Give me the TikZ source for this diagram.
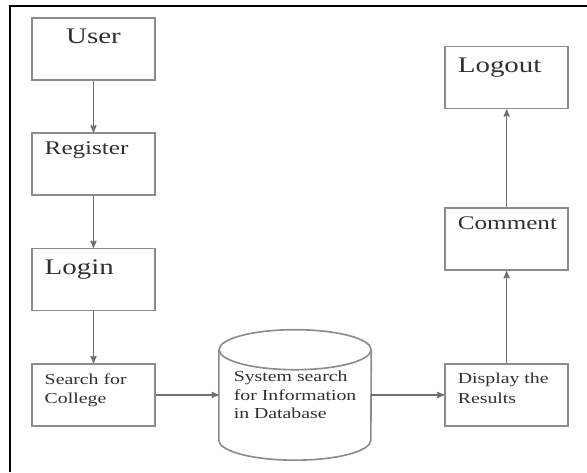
\documentclass[tikz,border=0pt]{standalone}
\usepackage{fontspec}
\setmainfont[FakeStretch=1.3]{Liberation Serif}
\usetikzlibrary{arrows,positioning}
\definecolor{linegray}{HTML}{8C8C8C}
\definecolor{textgray}{HTML}{303030}
\tikzset{
    %Define standard arrow tip
    >=stealth',
    %Define style for boxes
    stepbox/.style={
           rectangle,
           draw=linegray, line width=1.4pt,
           minimum width=3.69cm,
           minimum height=1.86cm,
           inner sep=0pt},
    %Define style for the texts in the boxes
    plaintext/.style={
           inner sep=0pt,
           text=textgray,
           align=left},
    boxtext/.style={
           plaintext,
           anchor=north west,
           xshift=0.4cm},
    bigtext/.style={font=\fontsize{19}{22}\selectfont, yshift=-0.36cm},
    midtext/.style={font=\fontsize{16.5}{20}\selectfont, yshift=-0.28cm},
    smalltext/.style={font=\fontsize{13}{17}\selectfont, yshift=-0.3cm},
    % Define arrow style
    pil/.style={
           ->,
           draw=linegray!80!black,
           line width=1.2pt}
}
\begin{document}
\begin{tikzpicture}[x=0.03cm,y=-0.03cm,node distance=1.55cm]
\useasboundingbox (0,0) rectangle (587,472);
 %frame
\coordinate (framebl) at (10,472);
\coordinate (frametr) at (587,6);
\draw[line width=1.6pt] (framebl) |- (frametr);
 %nodes
\node[stepbox, label={[plaintext,bigtext,anchor=north]north:User}] (user) at (93.5,49) {};
\node[stepbox, below=of user, label={[boxtext,midtext]north west:Register}] (register) {};
\node[stepbox, below=of register, label={[boxtext,bigtext]north west:Login}] (login) {};
\node[stepbox, below=of login, label={[boxtext,smalltext]north west:{Search for\\College}}] (search) {};
\node[right=1.89cm of search, minimum width=4.56cm, minimum height=2.7cm, inner sep=0pt,
      align=left, text=textgray, font=\fontsize{13}{16}\selectfont] (db) {System search\\for Information\\in Database};
\node[stepbox, right=2.19cm of db, label={[boxtext,smalltext]north west:{Display the\\Results}}] (display) {};
\node[stepbox, above=2.76cm of display, label={[boxtext,midtext]north west:Comment}] (comment) {};
\node[stepbox, above=2.94cm of comment, label={[boxtext,bigtext]north west:Logout}] (logout) {};
 %database outline
\draw[draw=linegray, line width=1.4pt] (db.north west) -- (db.south west)
    arc[start angle=180, end angle=360, x radius=2.28cm, y radius=0.6cm] -- (db.north east);
\draw[draw=linegray, line width=1.4pt] (db.north) ellipse [x radius=2.28cm, y radius=0.6cm];
 %arrows
\draw[pil] (user) -- (register);
\draw[pil] (register) -- (login);
\draw[pil] (login) -- (search);
\draw[pil] (search) -- (db);
\draw[pil] (db) -- (display);
\draw[pil] (display) -- (comment);
\draw[pil] (comment) -- (logout);
\end{tikzpicture}
\end{document}
